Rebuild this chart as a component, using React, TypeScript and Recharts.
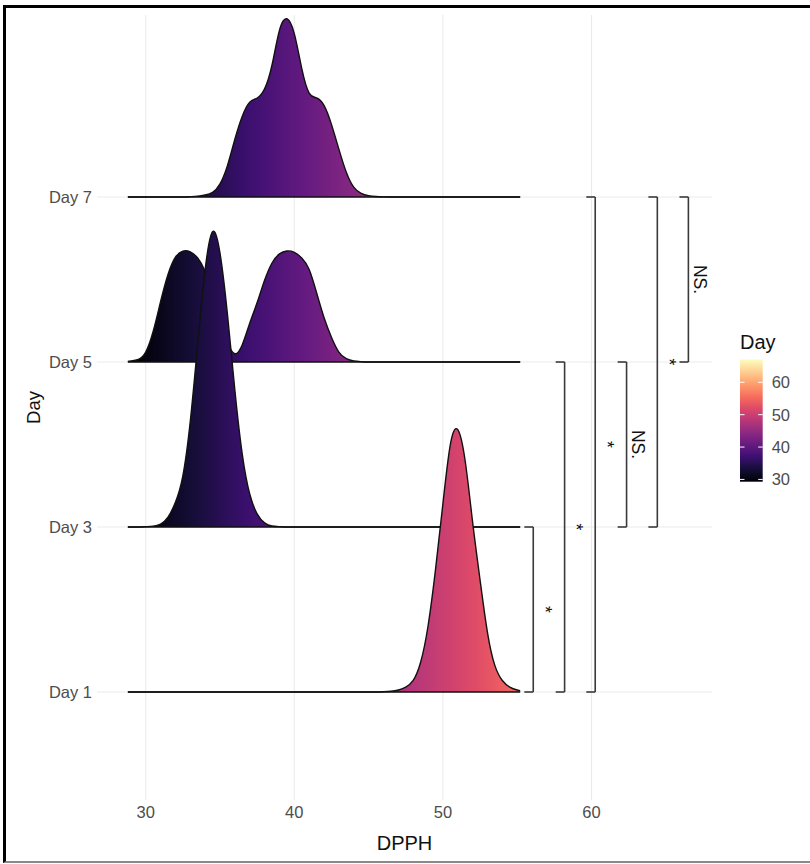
import React from 'react';
import {
  ComposedChart,
  Area,
  XAxis,
  YAxis,
  CartesianGrid,
  ReferenceLine,
  Scatter,
  Label,
} from 'recharts';

// ---------- data ----------
const DPPH_GRID = [
  28.8, 29.0, 29.5, 30.0, 30.5, 31.0, 31.5, 32.0, 32.5, 33.0, 33.5, 34.0, 34.5, 35.0,
  35.5, 36.0, 36.5, 37.0, 37.5, 38.0, 38.5, 39.0, 39.5, 40.0, 40.5, 41.0, 41.5, 42.0,
  42.5, 43.0, 43.5, 44.0, 44.5, 45.0, 45.5, 46.0, 46.5, 47.0, 47.5, 48.0, 48.5, 49.0,
  49.5, 50.0, 50.5, 51.0, 51.5, 52.0, 52.5, 53.0, 53.5, 54.0, 54.5, 55.0, 55.2,
];

// ridge heights (in row units)
const DENS_DAY1 = [
  0, 0, 0, 0, 0, 0, 0, 0, 0, 0, 0, 0, 0, 0,
  0, 0, 0, 0, 0, 0, 0, 0, 0, 0, 0, 0, 0, 0,
  0, 0, 0, 0, 0, 0, 0, 0.002, 0.005, 0.012, 0.03, 0.07, 0.18, 0.4,
  0.74, 1.14, 1.5, 1.59, 1.4, 1.03, 0.68, 0.36, 0.16, 0.07, 0.03, 0.012, 0.008,
];
const DENS_DAY3 = [
  0, 0, 0, 0.002, 0.005, 0.018, 0.06, 0.15, 0.31, 0.64, 1.11, 1.56, 1.79, 1.66,
  1.29, 0.83, 0.44, 0.2, 0.08, 0.025, 0.006, 0.002, 0, 0, 0, 0, 0, 0,
  0, 0, 0, 0, 0, 0, 0, 0, 0, 0, 0, 0, 0, 0,
  0, 0, 0, 0, 0, 0, 0, 0, 0, 0, 0, 0, 0,
];
const DENS_DAY5 = [
  0.003, 0.006, 0.015, 0.06, 0.185, 0.365, 0.53, 0.635, 0.672, 0.668, 0.63, 0.55, 0.42, 0.26,
  0.12, 0.05, 0.105, 0.235, 0.36, 0.495, 0.6, 0.655, 0.673, 0.665, 0.63, 0.56, 0.42, 0.27,
  0.15, 0.06, 0.02, 0.006, 0.002, 0, 0, 0, 0, 0, 0, 0, 0, 0,
  0, 0, 0, 0, 0, 0, 0, 0, 0, 0, 0, 0, 0,
];
const DENS_DAY7 = [
  0, 0, 0, 0, 0, 0, 0, 0, 0, 0.002, 0.005, 0.012, 0.028, 0.08,
  0.19, 0.35, 0.49, 0.575, 0.6, 0.655, 0.8, 1.01, 1.08, 0.99, 0.78, 0.63, 0.6, 0.555,
  0.44, 0.29, 0.15, 0.06, 0.022, 0.008, 0.003, 0.001, 0, 0, 0, 0, 0, 0,
  0, 0, 0, 0, 0, 0, 0, 0, 0, 0, 0, 0, 0,
];

const DAY_LABELS = ['Day 1', 'Day 3', 'Day 5', 'Day 7'];
const DAY_ROWS = [1, 2, 3, 4];
const X_TICKS = [30, 40, 50, 60];
const LEGEND_TICKS = [30, 40, 50, 60];
const FILL_RANGE = [29.3, 67.1];

// significance brackets
const CMP_FROM = [1, 1, 1, 2, 2, 3];
const CMP_TO = [2, 3, 4, 3, 4, 4];
const CMP_X = [56.08, 58.19, 60.25, 62.36, 64.43, 66.52];
const CMP_LABEL = ['*', '*', '*', 'NS.', '*', 'NS.'];

// magma palette
const MAGMA = [
  '#000004', '#140E36', '#3B0F70', '#641A80', '#8C2981', '#B73779',
  '#DE4968', '#F7705C', '#FE9F6D', '#FECF92', '#FCFDBF',
];

// ---------- helpers ----------
const X_DOMAIN = [26.723, 68.109];
const Y_DOMAIN = [0.3455, 5.103];
const BRACKET_TICK = 0.6;
const LABEL_GAP = 0.37;

const SANS = '"Liberation Sans", Arial, sans-serif';

function hexToRgb(h: string) {
  const n = parseInt(h.slice(1), 16);
  return [(n >> 16) & 255, (n >> 8) & 255, n & 255];
}
function magmaAt(t: number) {
  const c = Math.max(0, Math.min(1, t)) * (MAGMA.length - 1);
  const i = Math.min(MAGMA.length - 2, Math.floor(c));
  const f = c - i;
  const a = hexToRgb(MAGMA[i]);
  const b = hexToRgb(MAGMA[i + 1]);
  const m = a.map((v, k) => Math.round(v + (b[k] - v) * f));
  return `rgb(${m[0]},${m[1]},${m[2]})`;
}
const fillT = (v: number) => (v - FILL_RANGE[0]) / (FILL_RANGE[1] - FILL_RANGE[0]);

const data = DPPH_GRID.map((x, i) => ({
  x,
  day1: DENS_DAY1[i],
  day3: DENS_DAY3[i],
  day5: DENS_DAY5[i],
  day7: DENS_DAY7[i],
}));

const SERIES = [
  { key: 'day7', row: DAY_ROWS[3] },
  { key: 'day5', row: DAY_ROWS[2] },
  { key: 'day3', row: DAY_ROWS[1] },
  { key: 'day1', row: DAY_ROWS[0] },
];

const gridMin = DPPH_GRID[0];
const gridMax = DPPH_GRID[DPPH_GRID.length - 1];
const STOP_OFFSETS = Array.from({ length: 41 }, (_, i) => i / 40);

const sigData = CMP_X.map((x, i) => ({
  x: x + LABEL_GAP,
  y: (CMP_FROM[i] + CMP_TO[i]) / 2,
  label: CMP_LABEL[i],
}));

const SigLabel = (props: any) => {
  const { cx, cy, payload } = props;
  if (cx == null || cy == null) return null;
  return (
    <text
      x={cx}
      y={cy}
      transform={`rotate(90 ${cx} ${cy})`}
      textAnchor="middle"
      fontFamily={SANS}
      fontSize={17.5}
      fill="#111"
    >
      {payload.label}
    </text>
  );
};

const ColorBar = () => {
  const barX = 10;
  const barTop = 39.3;
  const barH = 122.4;
  const barW = 22.7;
  const yOf = (v: number) => barTop + barH - fillT(v) * barH;
  return (
    <svg
      width={80}
      height={180}
      style={{ position: 'absolute', left: 730, top: 320, overflow: 'visible' }}
    >
      <defs>
        <linearGradient id="barFill" x1="0" y1="1" x2="0" y2="0">
          {STOP_OFFSETS.map((o) => (
            <stop key={o} offset={o} stopColor={magmaAt(o)} />
          ))}
        </linearGradient>
      </defs>
      <text x={barX} y={29} fontFamily={SANS} fontSize={20} fill="#111">
        Day
      </text>
      <rect x={barX} y={barTop} width={barW} height={barH} fill="url(#barFill)" />
      {LEGEND_TICKS.map((v) => (
        <g key={v}>
          <line x1={barX} x2={barX + 4.5} y1={yOf(v)} y2={yOf(v)} stroke="#fff" strokeWidth={1} />
          <line x1={barX + barW - 4.5} x2={barX + barW} y1={yOf(v)} y2={yOf(v)} stroke="#fff" strokeWidth={1} />
          <text x={41.7} y={yOf(v)} dy="0.36em" fontFamily={SANS} fontSize={16.5} fill="#4d4d4d">
            {v}
          </text>
        </g>
      ))}
    </svg>
  );
};

export default function App() {
  return (
    <div style={{ position: 'absolute', left: 0, top: 0, width: 810, height: 864, background: '#fff' }}>
      <div
        style={{
          position: 'absolute',
          left: 3,
          top: 5,
          width: 807,
          height: 858,
          boxSizing: 'border-box',
          borderTop: '3px solid #000',
          borderLeft: '3px solid #000',
          borderBottom: '2px solid #8a8a8a',
        }}
      />
      <div style={{ position: 'absolute', left: 0, top: 0 }}>
        <ComposedChart
          width={810}
          height={864}
          data={data}
          margin={{ top: 15, right: 98, bottom: 0, left: 0 }}
        >
          <defs>
            <linearGradient id="ridgeFill" x1="0" y1="0" x2="1" y2="0">
              {STOP_OFFSETS.map((o) => (
                <stop
                  key={o}
                  offset={o}
                  stopColor={magmaAt(fillT(gridMin + o * (gridMax - gridMin)))}
                />
              ))}
            </linearGradient>
          </defs>
          <CartesianGrid
            stroke="#ebebeb"
            strokeWidth={1.1}
            horizontalValues={DAY_ROWS}
            verticalValues={X_TICKS}
          />
          <XAxis
            dataKey="x"
            type="number"
            domain={X_DOMAIN}
            allowDataOverflow
            ticks={X_TICKS}
            interval={0}
            axisLine={false}
            tickLine={false}
            tickSize={6}
            tickMargin={0}
            height={64}
            tick={{ fill: '#4d4d4d', fontSize: 16.5, fontFamily: SANS }}
          >
            <Label
              content={(p: any) => {
                const vb = p.viewBox || { x: 97, y: 800, width: 615, height: 64 };
                return (
                  <text
                    x={vb.x + vb.width / 2}
                    y={vb.y + vb.height - 14}
                    textAnchor="middle"
                    fontFamily={SANS}
                    fontSize={20}
                    fill="#111"
                  >
                    DPPH
                  </text>
                );
              }}
            />
          </XAxis>
          <YAxis
            type="number"
            domain={Y_DOMAIN}
            allowDataOverflow
            ticks={DAY_ROWS}
            interval={0}
            axisLine={false}
            tickLine={false}
            tickSize={3}
            tickMargin={2}
            width={97}
            tickFormatter={(v: number) => DAY_LABELS[DAY_ROWS.indexOf(v)] ?? ''}
            tick={{ fill: '#4d4d4d', fontSize: 16.5, fontFamily: SANS }}
          >
            <Label
              content={(p: any) => {
                const vb = p.viewBox || { x: 0, y: 15, width: 97, height: 785 };
                const cx = vb.x + 40;
                const cy = vb.y + vb.height / 2;
                return (
                  <text
                    x={cx}
                    y={cy}
                    transform={`rotate(-90 ${cx} ${cy})`}
                    textAnchor="middle"
                    fontFamily={SANS}
                    fontSize={18.5}
                    fill="#111"
                  >
                    Day
                  </text>
                );
              }}
            />
          </YAxis>
          {SERIES.map((s) => (
            <Area
              key={s.key}
              type="natural"
              dataKey={(r: any) => [s.row, s.row + r[s.key]]}
              stroke="#111"
              strokeWidth={1.4}
              fill="url(#ridgeFill)"
              fillOpacity={1}
              dot={false}
              activeDot={false}
              isAnimationActive={false}
            />
          ))}
          {CMP_X.map((x, i) => (
            <ReferenceLine
              key={`v${i}`}
              segment={[{ x, y: CMP_FROM[i] }, { x, y: CMP_TO[i] }]}
              stroke="#3a3a3a"
              strokeWidth={1.6}
              ifOverflow="visible"
            />
          ))}
          {CMP_X.map((x, i) => (
            <ReferenceLine
              key={`a${i}`}
              segment={[{ x: x - BRACKET_TICK, y: CMP_FROM[i] }, { x, y: CMP_FROM[i] }]}
              stroke="#3a3a3a"
              strokeWidth={1.6}
              ifOverflow="visible"
            />
          ))}
          {CMP_X.map((x, i) => (
            <ReferenceLine
              key={`b${i}`}
              segment={[{ x: x - BRACKET_TICK, y: CMP_TO[i] }, { x, y: CMP_TO[i] }]}
              stroke="#3a3a3a"
              strokeWidth={1.6}
              ifOverflow="visible"
            />
          ))}
          <Scatter data={sigData} dataKey="y" shape={SigLabel} isAnimationActive={false} />
        </ComposedChart>
      </div>
      <ColorBar />
    </div>
  );
}
